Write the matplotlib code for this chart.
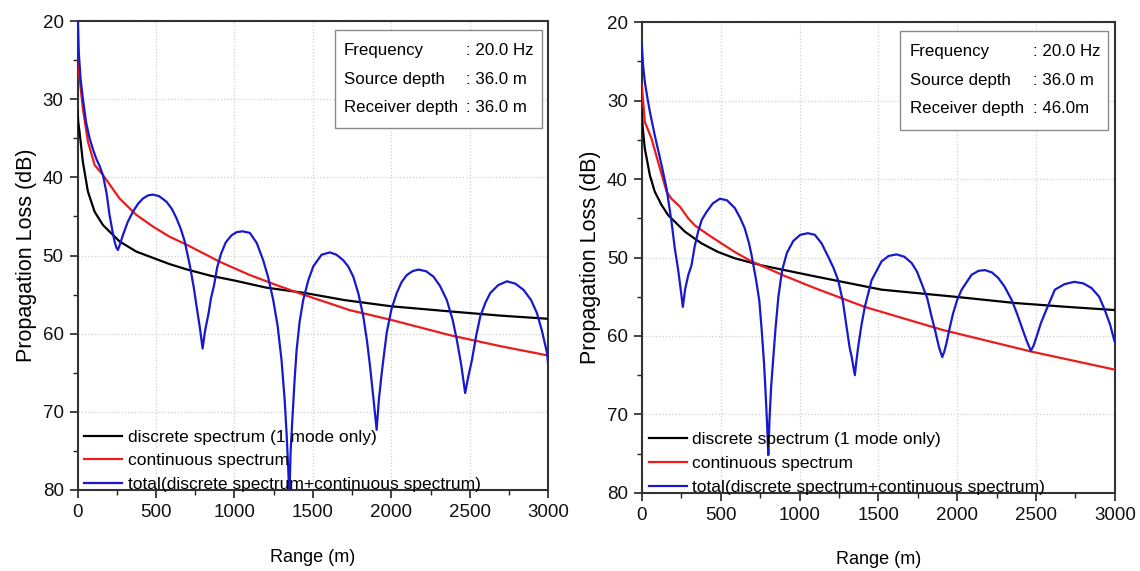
"""
Propagation loss vs range: discrete (1 mode), continuous and total spectrum,
two receiver depths side by side.
"""
import numpy as np
import matplotlib
matplotlib.use("Agg")
import matplotlib.pyplot as plt
from matplotlib.patches import Rectangle
from matplotlib.ticker import MultipleLocator

plt.rcParams["font.family"] = ["Liberation Sans", "DejaVu Sans"]

# ---- left panel (receiver depth 36 m) ----
disc_l_x = [0, 5, 13, 34, 66, 109, 162, 268, 375, 481, 587, 700, 850, 1000, 1200, 1450, 1700, 2000, 2400, 2700, 3000]
disc_l_y = [31.4, 33.0, 34.2, 38.0, 41.8, 44.4, 46.1, 48.2, 49.5, 50.3, 51.1, 51.8, 52.6, 53.2, 54.1, 54.8, 55.7, 56.5, 57.2, 57.7, 58.1]
cont_l_x = [0, 12, 34, 66, 109, 162, 268, 375, 481, 587, 694, 800, 906, 1098, 1270, 1438, 1736, 1991, 2374, 2694, 3000]
cont_l_y = [22.5, 27.0, 31.2, 35.4, 38.4, 39.7, 42.7, 44.8, 46.3, 47.6, 48.6, 49.7, 50.8, 52.5, 53.8, 55.0, 57.0, 58.2, 60.2, 61.6, 62.8]
tot_l_x = [0, 8, 20, 34, 55, 77, 100, 119, 140, 162, 185, 204, 222, 236, 248, 257, 270, 289, 320, 353,
           385, 417, 450, 481, 520, 566, 600, 630, 660, 683, 715, 740, 760, 780, 797, 812, 835, 850, 870, 890,
           914, 945, 982, 1015, 1051, 1098, 1142, 1183, 1215, 1247, 1275, 1300, 1320, 1332, 1342, 1350, 1358, 1370, 1383, 1396,
           1415, 1438, 1470, 1502, 1555, 1608, 1650, 1693, 1725, 1757, 1790, 1821, 1845, 1864, 1885, 1906, 1920, 1938, 1955, 1970,
           2000, 2034, 2065, 2098, 2135, 2172, 2220, 2268, 2310, 2353, 2390, 2417, 2445, 2470, 2490, 2513, 2540, 2566, 2600, 2630,
           2680, 2736, 2790, 2842, 2890, 2928, 2960, 2992, 3000]
tot_l_y = [18.0, 24.0, 27.5, 29.9, 33.0, 35.0, 36.5, 37.6, 38.5, 39.7, 42.0, 44.8, 46.8, 48.2, 49.0, 49.3, 48.6, 47.4, 45.7, 44.4,
           43.4, 42.7, 42.3, 42.2, 42.4, 43.1, 44.0, 45.2, 46.7, 48.2, 51.2, 54.0, 56.7, 59.3, 61.9, 59.7, 57.4, 55.5, 53.8, 51.5,
           49.8, 48.3, 47.4, 47.0, 46.9, 47.1, 48.4, 50.6, 52.8, 55.7, 59.0, 63.4, 68.5, 72.7, 77.0, 81.0, 75.0, 70.6, 66.0, 62.1,
           58.5, 55.7, 53.2, 51.4, 49.9, 49.6, 49.9, 50.6, 51.4, 52.7, 54.9, 57.8, 61.0, 64.2, 68.2, 72.3, 68.5, 65.1, 62.3, 59.9,
           56.9, 54.8, 53.4, 52.5, 52.0, 51.8, 52.0, 52.7, 53.9, 55.7, 58.2, 60.8, 64.0, 67.6, 65.5, 63.4, 60.3, 57.8, 56.0, 54.8,
           53.8, 53.3, 53.6, 54.4, 55.7, 57.4, 59.7, 62.5, 64.2]

# ---- right panel (receiver depth 46 m) ----
disc_r_x = [0, 5, 19, 51, 82, 125, 167, 273, 379, 484, 590, 759, 1097, 1520, 1985, 2366, 2700, 3000]
disc_r_y = [31.0, 33.3, 36.1, 39.5, 41.6, 43.3, 44.6, 46.7, 48.2, 49.3, 50.1, 51.0, 52.4, 54.1, 55.0, 55.8, 56.3, 56.7]
cont_r_x = [0, 19, 61, 103, 157, 188, 241, 294, 336, 421, 505, 590, 696, 800, 900, 1097, 1414, 1901, 2471, 3000]
cont_r_y = [28.0, 32.7, 34.8, 37.8, 41.6, 42.5, 43.5, 45.0, 45.9, 47.1, 48.2, 49.3, 50.5, 51.4, 52.3, 53.9, 56.3, 59.2, 62.0, 64.3]
tot_r_x = [0, 8, 19, 35, 51, 82, 125, 157, 188, 209, 230, 248, 260, 275, 295, 315, 335, 357, 380, 410,
           450, 495, 540, 590, 625, 653, 680, 696, 725, 745, 760, 775, 784, 795, 802, 810, 820, 831, 848, 866,
           890, 920, 960, 1005, 1053, 1097, 1140, 1182, 1215, 1245, 1275, 1298, 1318, 1330, 1342, 1351, 1360, 1372, 1392, 1414,
           1457, 1520, 1565, 1615, 1665, 1711, 1745, 1774, 1810, 1837, 1862, 1884, 1905, 1918, 1932, 1952, 1974, 2000, 2028, 2091,
           2135, 2175, 2220, 2260, 2300, 2345, 2380, 2408, 2440, 2467, 2485, 2503, 2530, 2556, 2590, 2619, 2680, 2742, 2800, 2852,
           2900, 2936, 2970, 2995, 3000]
tot_r_y = [22.9, 25.5, 27.6, 29.6, 31.4, 34.4, 38.2, 41.2, 45.4, 48.8, 51.5, 54.3, 56.3, 54.0, 52.2, 51.0, 48.6, 46.7, 45.2, 44.2,
           43.1, 42.5, 42.7, 43.7, 45.0, 46.3, 48.2, 49.7, 52.9, 55.5, 59.2, 63.5, 66.9, 71.5, 75.2, 70.5, 66.5, 63.5, 59.0, 55.0,
           51.6, 49.4, 47.9, 47.1, 46.9, 47.1, 48.2, 49.9, 51.3, 52.9, 55.6, 58.8, 61.5, 62.6, 64.0, 65.0, 63.3, 61.4, 58.7, 56.3,
           52.9, 50.5, 49.8, 49.6, 49.9, 50.7, 51.8, 53.3, 55.2, 57.5, 59.5, 61.4, 62.7, 62.0, 60.9, 59.0, 57.1, 55.4, 54.1, 52.2,
           51.7, 51.6, 51.9, 52.6, 53.7, 55.4, 57.2, 58.8, 60.6, 61.9, 61.2, 60.1, 58.4, 57.1, 55.5, 54.1, 53.4, 53.1, 53.3, 53.9,
           55.0, 56.7, 58.6, 60.5, 60.8]

info_keys = ["Frequency", "Source depth", "Receiver depth"]
info_left = [": 20.0 Hz", ": 36.0 m", ": 36.0 m"]
info_right = [": 20.0 Hz", ": 36.0 m", ": 46.0m"]
labels = ["discrete spectrum (1 mode only)", "continuous spectrum",
          "total(discrete spectrum+continuous spectrum)"]
colors = ["#000000", "#ec1c1c", "#1818cc"]

fig = plt.figure(figsize=(11.4, 5.71), dpi=100)
ax_l = fig.add_axes([0.068, 0.142, 0.413, 0.821])
ax_r = fig.add_axes([0.563, 0.137, 0.415, 0.824])

panels = [
    (ax_l, [(disc_l_x, disc_l_y), (cont_l_x, cont_l_y), (tot_l_x, tot_l_y)], info_left, 0.014, [0.566, 0.826], [0.938, 0.876, 0.816], (0.546, 0.772, 0.441, 0.210)),
    (ax_r, [(disc_r_x, disc_r_y), (cont_r_x, cont_r_y), (tot_r_x, tot_r_y)], info_right, 0.015, [0.567, 0.826], [0.937, 0.877, 0.817], (0.545, 0.772, 0.440, 0.210)),
]

for ax, series, info, leg_x, cols, rows, box in panels:
    for (x, y), c, lab in zip(series, colors, labels):
        ax.plot(x, y, color=c, lw=1.6, label=lab, zorder=3)
    ax.set_xlim(0, 3000); ax.set_ylim(80, 20)
    ax.xaxis.set_major_locator(MultipleLocator(500)); ax.xaxis.set_minor_locator(MultipleLocator(250))
    ax.yaxis.set_major_locator(MultipleLocator(10)); ax.yaxis.set_minor_locator(MultipleLocator(5))
    ax.tick_params(which="major", direction="out", length=6, width=1.2, labelsize=13.5, colors="#222222",
                   labelcolor="#111111", pad=4)
    ax.tick_params(which="minor", direction="out", length=3.5, width=1.0, colors="#222222")
    for sp in ax.spines.values():
        sp.set_color("#333333"); sp.set_linewidth(1.5)
    ax.grid(which="major", color="#d0d0d0", ls=":", lw=0.9)
    ax.set_xlabel("Range (m)", fontsize=13, labelpad=20)
    ax.set_ylabel("Propagation Loss (dB)", fontsize=15.5, labelpad=4)
    ax.legend(loc="lower left", bbox_to_anchor=(leg_x, -0.005), frameon=False, fontsize=12.5,
              handlelength=2.2, handletextpad=0.3, labelspacing=0.5, borderpad=0.0, borderaxespad=0.0)
    ax.add_patch(Rectangle((box[0], box[1]), box[2], box[3], transform=ax.transAxes, fill=True,
                           facecolor="white", edgecolor="#8a8a8a", lw=1.0, zorder=4))
    for k, v, yy in zip(info_keys, info, rows):
        ax.text(cols[0], yy, k, transform=ax.transAxes, fontsize=12.2, va="center", ha="left", zorder=5)
        ax.text(cols[1], yy, v, transform=ax.transAxes, fontsize=12.2, va="center", ha="left", zorder=5)

fig.savefig("out.png", dpi=100)
